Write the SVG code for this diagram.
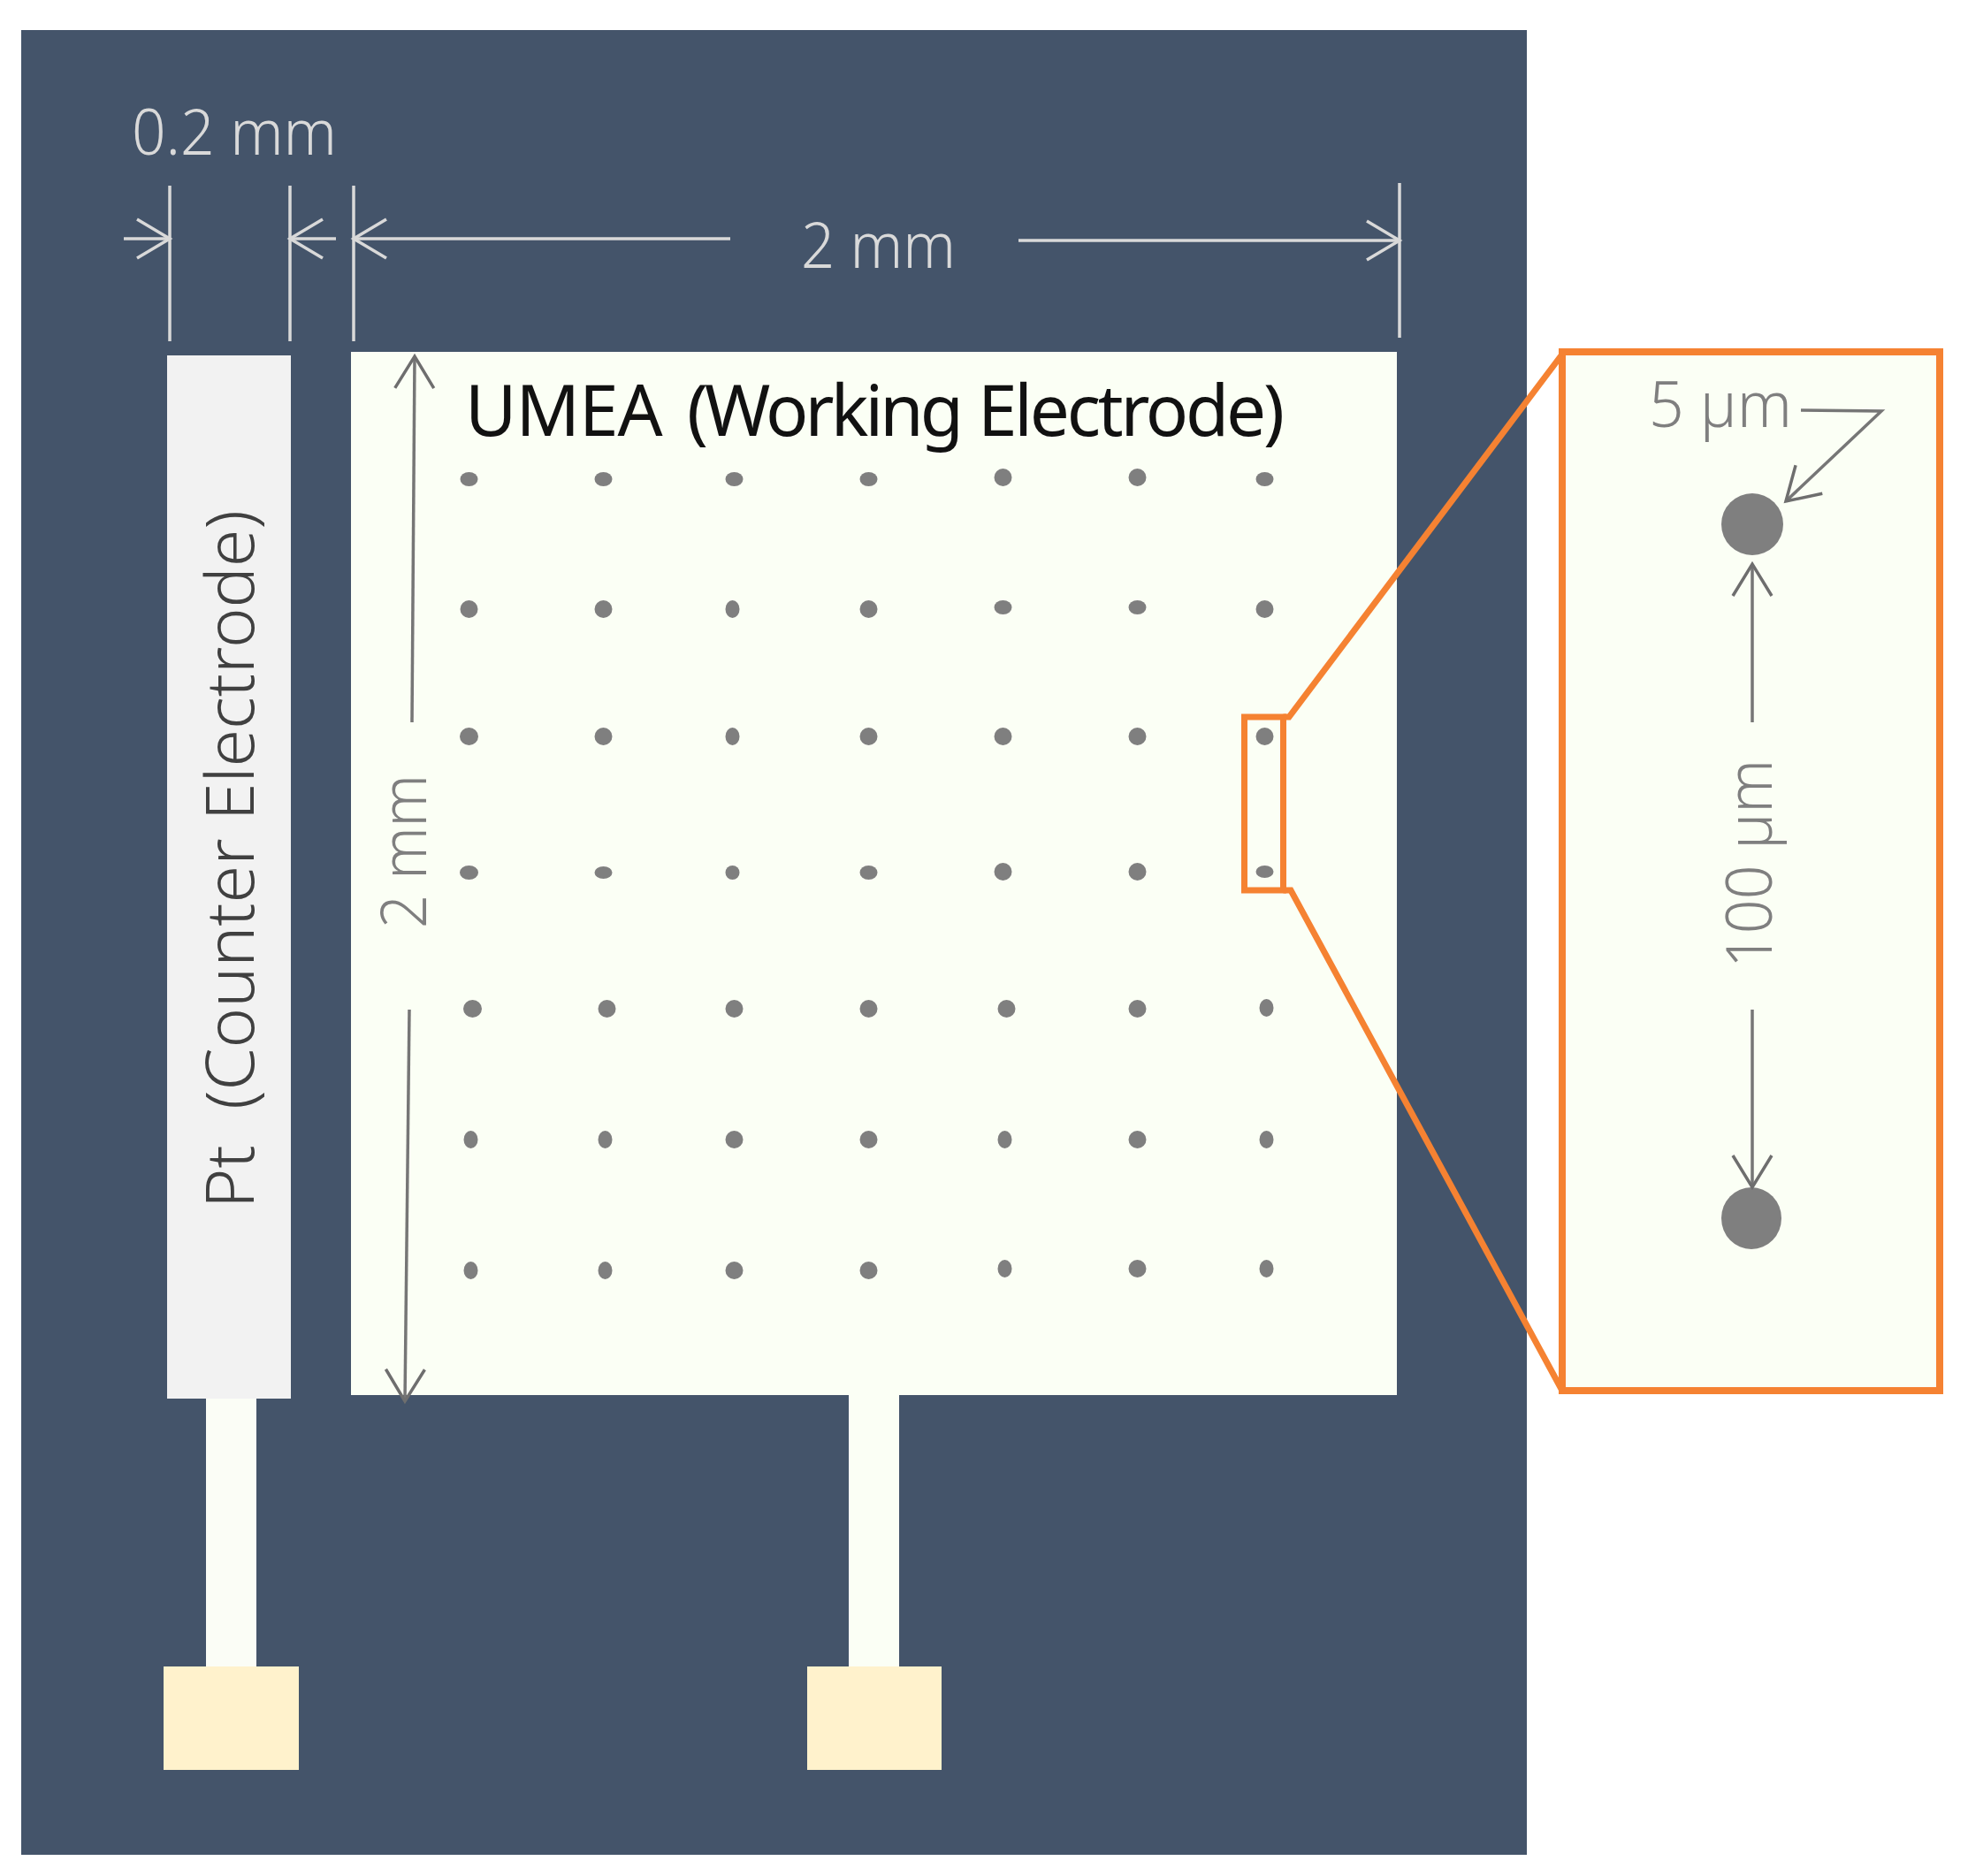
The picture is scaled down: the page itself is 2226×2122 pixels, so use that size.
<svg xmlns="http://www.w3.org/2000/svg" width="2226" height="2122" viewBox="0 0 2226 2122">
<style>
.t{font-family:"Noto Sans","Liberation Sans",sans-serif;font-weight:300;font-size:72px}
.lt{fill:#d9d9d9}.gt{fill:#7f7f7f}
.dk{font-family:"Noto Sans","Liberation Sans",sans-serif;font-weight:400;font-size:80px}
.l{fill:none;stroke:#d9d9d9;stroke-width:3.5}
.g{fill:none;stroke:#767676;stroke-width:3.5}
.or{fill:none;stroke:#f58232;stroke-width:7}
.dot{fill:#7f7f7f}
</style>
<defs>
<marker id="hl" markerUnits="userSpaceOnUse" viewBox="-40 -25 44 50" refX="0" refY="0" markerWidth="44" markerHeight="50" orient="auto"><path d="M-37 -22L0 0L-37 22" fill="none" stroke="#d9d9d9" stroke-width="3.5"/></marker>
<marker id="hg" markerUnits="userSpaceOnUse" viewBox="-40 -25 44 50" refX="0" refY="0" markerWidth="44" markerHeight="50" orient="auto"><path d="M-36 -22L0 0L-36 22" fill="none" stroke="#6e6e6e" stroke-width="3.5"/></marker>
</defs>
<rect width="2226" height="2122" fill="#fff"/>
<rect id="substrate" x="24" y="34" width="1703" height="2064" fill="#44546a"/>
<g id="counter-electrode">
<rect x="233" y="1575" width="57" height="315" fill="#fbfdf6"/>
<rect x="189" y="402" width="140" height="1180" fill="#f2f2f2"/>
<rect x="185" y="1885" width="153" height="117" fill="#fff2cc"/>
<text class="dk" transform="translate(287 1367) rotate(-90)" fill="#404040" textLength="790" lengthAdjust="spacingAndGlyphs" xml:space="preserve" style="font-size:76px;font-weight:300">Pt  (Counter Electrode)</text>
</g>
<g id="working-electrode">
<rect x="960" y="1570" width="57" height="320" fill="#fbfff5"/>
<rect x="397" y="398" width="1183" height="1180" fill="#fbfff5"/>
<rect x="913" y="1885" width="152" height="117" fill="#fff2cc"/>
<text class="dk" y="493" fill="#111"><tspan x="526" letter-spacing="-1">UMEA </tspan><tspan x="777" letter-spacing="-3.900">(Working </tspan><tspan x="1106" letter-spacing="-3.200">Electrode)</tspan></text>
</g>
<g id="dots" transform="translate(-1.500 -1)">
<ellipse class="dot" cx="532" cy="543" rx="10" ry="8"/><ellipse class="dot" cx="684" cy="543" rx="10" ry="8"/><ellipse class="dot" cx="832" cy="543" rx="10" ry="8"/><ellipse class="dot" cx="984" cy="543" rx="10" ry="8"/><ellipse class="dot" cx="1136" cy="541" rx="10" ry="10"/><ellipse class="dot" cx="1288" cy="541" rx="10" ry="10"/><ellipse class="dot" cx="1432" cy="543" rx="10" ry="8"/>
<ellipse class="dot" cx="532" cy="690" rx="10" ry="10"/><ellipse class="dot" cx="684" cy="690" rx="10" ry="10"/><ellipse class="dot" cx="830" cy="690" rx="8" ry="10"/><ellipse class="dot" cx="984" cy="690" rx="10" ry="10"/><ellipse class="dot" cx="1136" cy="688" rx="10" ry="8"/><ellipse class="dot" cx="1288" cy="688" rx="10" ry="8"/><ellipse class="dot" cx="1432" cy="690" rx="10" ry="10"/>
<ellipse class="dot" cx="532" cy="834" rx="10.500" ry="10"/><ellipse class="dot" cx="684" cy="834" rx="10" ry="10"/><ellipse class="dot" cx="830" cy="834" rx="8" ry="10"/><ellipse class="dot" cx="984" cy="834" rx="10" ry="10"/><ellipse class="dot" cx="1136" cy="834" rx="10" ry="10"/><ellipse class="dot" cx="1288" cy="834" rx="10" ry="10"/><ellipse class="dot" cx="1432" cy="834" rx="10" ry="10"/>
<ellipse class="dot" cx="532" cy="988" rx="10.500" ry="8"/><ellipse class="dot" cx="684" cy="988" rx="10" ry="7"/><ellipse class="dot" cx="830" cy="988" rx="8" ry="8"/><ellipse class="dot" cx="984" cy="988" rx="10" ry="8"/><ellipse class="dot" cx="1136" cy="987" rx="10" ry="10"/><ellipse class="dot" cx="1288" cy="987" rx="10" ry="10"/><ellipse class="dot" cx="1432" cy="987" rx="10" ry="7"/>
<ellipse class="dot" cx="536" cy="1142" rx="10.500" ry="10"/><ellipse class="dot" cx="688" cy="1142" rx="10" ry="10"/><ellipse class="dot" cx="832" cy="1142" rx="10" ry="10"/><ellipse class="dot" cx="984" cy="1142" rx="10" ry="10"/><ellipse class="dot" cx="1140" cy="1142" rx="10" ry="10"/><ellipse class="dot" cx="1288" cy="1142" rx="10" ry="10"/><ellipse class="dot" cx="1434" cy="1141" rx="8" ry="10"/>
<ellipse class="dot" cx="534" cy="1290" rx="8" ry="10"/><ellipse class="dot" cx="686" cy="1290" rx="8" ry="10"/><ellipse class="dot" cx="832" cy="1290" rx="10" ry="10"/><ellipse class="dot" cx="984" cy="1290" rx="10" ry="10"/><ellipse class="dot" cx="1138" cy="1290" rx="8" ry="10"/><ellipse class="dot" cx="1288" cy="1290" rx="10" ry="10"/><ellipse class="dot" cx="1434" cy="1290" rx="8" ry="10"/>
<ellipse class="dot" cx="534" cy="1438" rx="8" ry="10"/><ellipse class="dot" cx="686" cy="1438" rx="8" ry="10"/><ellipse class="dot" cx="832" cy="1438" rx="10" ry="10"/><ellipse class="dot" cx="984" cy="1438" rx="10" ry="10"/><ellipse class="dot" cx="1138" cy="1436" rx="8" ry="10"/><ellipse class="dot" cx="1288" cy="1436" rx="10" ry="10"/><ellipse class="dot" cx="1434" cy="1436" rx="8" ry="10"/>
</g>
<g id="zoom-inset">
<rect x="1767" y="398" width="427" height="1175" fill="#fbfff5" stroke="#f58232" stroke-width="8"/>
<circle cx="1982" cy="593" r="35" fill="#7f7f7f"/>
<ellipse cx="1981" cy="1378" rx="34" ry="35" fill="#7f7f7f"/>
<text class="t gt" x="1865" y="483" textLength="162" lengthAdjust="spacingAndGlyphs">5 µm</text>
<text class="t gt" transform="translate(2004 1095) rotate(-90)" textLength="236" lengthAdjust="spacingAndGlyphs">100 µm</text>
</g>
<g id="dimension-labels">
<text class="t lt" x="149" y="175" textLength="232" lengthAdjust="spacingAndGlyphs">0.2 mm</text>
<text class="t lt" x="906" y="303" textLength="175" lengthAdjust="spacingAndGlyphs">2 mm</text>
<text class="t gt" transform="translate(482 1050) rotate(-90)" textLength="174" lengthAdjust="spacingAndGlyphs">2 mm</text>
</g>
<g id="connectors">
<path class="l" d="M192 210V386M328 210V386M400 210V386M1583 207V382"/>
<path class="l" d="M140 270H192" marker-end="url(#hl)"/>
<path class="l" d="M380 270H328" marker-end="url(#hl)"/>
<path class="l" d="M826 270H400" marker-end="url(#hl)"/>
<path class="l" d="M1152 272H1583" marker-end="url(#hl)"/>
<path class="g" d="M466 817L469 403" marker-end="url(#hg)"/>
<path class="g" d="M463 1142L458 1585" marker-end="url(#hg)"/>
<path class="g" d="M1982 817V638" marker-end="url(#hg)"/>
<path class="g" d="M1982 1142V1343" marker-end="url(#hg)"/>
<path class="g" d="M2037 464L2128 465L2020 567" marker-end="url(#hg)"/>
<rect class="or" x="1407.500" y="811" width="44" height="196"/>
<path class="or" d="M1451.500 811H1458L1766 402M1451.500 1007H1460L1767 1573"/>
</g>
</svg>
